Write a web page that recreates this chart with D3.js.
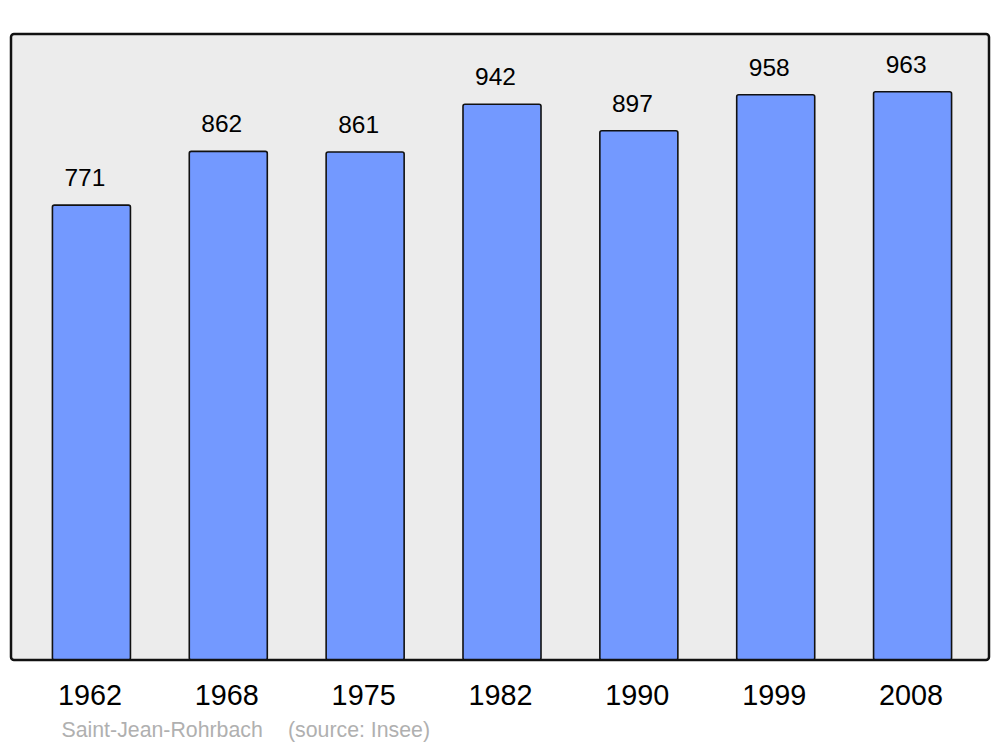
<!DOCTYPE html>
<html>
<head>
<meta charset="utf-8">
<script src="https://cdn.jsdelivr.net/npm/d3@7"></script>
<style>
  html, body { margin: 0; padding: 0; background: #ffffff; }
  svg { display: block; }
  text { font-family: "Liberation Sans", Arial, sans-serif; }
</style>
</head>
<body>
<svg id="chart" width="1000" height="747"></svg>
<script>
const years = ["1962", "1968", "1975", "1982", "1990", "1999", "2008"];
const population = [771, 862, 861, 942, 897, 958, 963];
const placeName = "Saint-Jean-Rohrbach";
const sourceText = "(source: Insee)";

const svg = d3.select("#chart");

const frame = { left: 11, top: 34, right: 989, bottom: 660 };

const x = d3.scaleBand()
  .domain(years)
  .range([23, 981])
  .paddingInner(0.43)
  .paddingOuter(0.215);

const y = d3.scaleLinear()
  .domain([0, d3.max(population) * 1.1])
  .range([frame.bottom, frame.top + 1]);

// plot frame
svg.append("rect")
  .attr("x", frame.left)
  .attr("y", frame.top)
  .attr("width", frame.right - frame.left)
  .attr("height", frame.bottom - frame.top)
  .attr("rx", 3)
  .attr("fill", "#ececec")
  .attr("stroke", "none");

const data = years.map((yr, i) => ({ year: yr, value: population[i] }));

// bars
svg.append("g").selectAll("rect")
  .data(data)
  .join("rect")
  .attr("x", d => x(d.year))
  .attr("y", d => y(d.value))
  .attr("width", x.bandwidth())
  .attr("height", d => y(0) - y(d.value))
  .attr("rx", 2)
  .attr("fill", "#7399ff")
  .attr("stroke", "#111")
  .attr("stroke-width", 1.6);

// frame border on top
svg.append("rect")
  .attr("x", frame.left)
  .attr("y", frame.top)
  .attr("width", frame.right - frame.left)
  .attr("height", frame.bottom - frame.top)
  .attr("rx", 3)
  .attr("fill", "none")
  .attr("stroke", "#111")
  .attr("stroke-width", 2.5);

// value labels
svg.append("g").selectAll("text")
  .data(data)
  .join("text")
  .attr("x", d => x(d.year) + x.bandwidth() / 2 - 6.5)
  .attr("y", d => y(d.value) - 19)
  .attr("text-anchor", "middle")
  .attr("font-size", 24.5)
  .attr("fill", "#000")
  .text(d => d.value);

// year axis labels
const xAxis = d3.axisBottom(x).tickSize(0).tickPadding(0);
const axisG = svg.append("g")
  .attr("transform", `translate(0, 705)`)
  .call(xAxis);
axisG.select(".domain").remove();
axisG.selectAll("text")
  .attr("dy", 0)
  .attr("y", 0)
  .attr("dx", -1.5)
  .attr("font-size", 28.8)
  .attr("font-family", "'Liberation Sans', Arial, sans-serif")
  .attr("fill", "#000");

// source
svg.append("text")
  .attr("x", 61.5)
  .attr("y", 737)
  .attr("font-size", 21.3)
  .attr("fill", "#b0b0b0")
  .text(placeName);
svg.append("text")
  .attr("x", 288)
  .attr("y", 737)
  .attr("font-size", 21.3)
  .attr("fill", "#b0b0b0")
  .text(sourceText);
</script>
</body>
</html>
